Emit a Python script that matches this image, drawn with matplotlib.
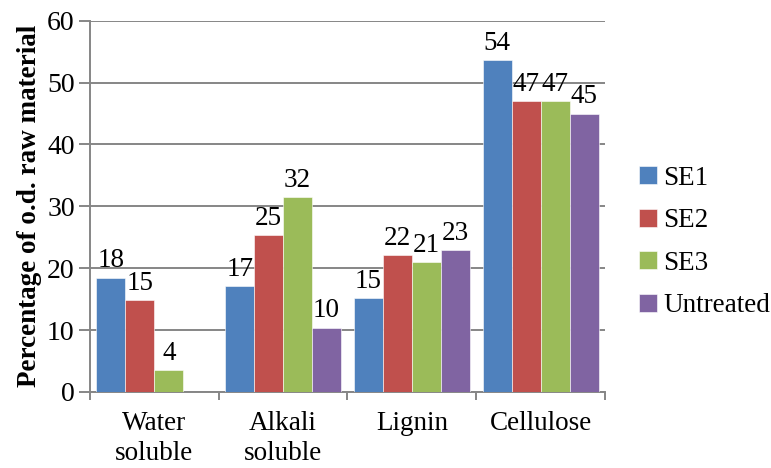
import numpy as np
import matplotlib
matplotlib.use('Agg')
import matplotlib.pyplot as plt

categories = ['Water\nsoluble', 'Alkali\nsoluble', 'Lignin', 'Cellulose']
series = ['SE1', 'SE2', 'SE3', 'Untreated']
se1 = [18.5, 17.1, 15.2, 53.6]
se2 = [14.9, 25.4, 22.1, 47.0]
se3 = [3.6, 31.5, 21.0, 47.0]
untreated = [np.nan, 10.4, 22.9, 45.0]
colors = ['#4F81BD', '#C0504D', '#9BBB59', '#8064A2']

plt.rcParams['font.family'] = ['Liberation Serif', 'DejaVu Serif']

fig = plt.figure(figsize=(7.71, 4.68), dpi=100)
ax = fig.add_axes([0.1167, 0.1624, 0.668, 0.7934])

x = np.arange(len(categories))
w = 0.225
for i, (name, vals) in enumerate(zip(series, [se1, se2, se3, untreated])):
    pos = x + (i - 1.5) * w
    ax.bar(pos, vals, width=w, color=colors[i], label=name, zorder=3,
           edgecolor='white', linewidth=0.4)
    for p, v in zip(pos, vals):
        if np.isnan(v):
            continue
        ax.annotate(f'{v:.0f}', (p, v), xytext=(0, 3), textcoords='offset points',
                    ha='center', va='bottom', fontsize=19.5)

ax.set_xlim(-0.5, len(categories) - 0.5)
ax.set_ylim(0, 60)
ax.set_yticks(range(0, 61, 10))
ax.yaxis.grid(True, color='#868686', linewidth=1.4, zorder=0)
ax.set_axisbelow(True)

ax.set_xticks(x)
ax.set_xticklabels(categories, fontsize=19.5, linespacing=1.25)
ax.set_xticks(np.arange(-0.5, len(categories), 1), minor=True)
ax.tick_params(axis='x', which='major', length=0, pad=14)
ax.tick_params(axis='x', which='minor', length=6, width=1.4, color='#868686', direction='out')
ax.tick_params(axis='y', length=8, width=1.4, color='#868686', labelsize=20, pad=3)

for s in ['top', 'right']:
    ax.spines[s].set_visible(False)
for s in ['left', 'bottom']:
    ax.spines[s].set_color('#868686')
    ax.spines[s].set_linewidth(1.4)

ax.set_ylabel('Percentage of o.d. raw material', fontsize=19.5, fontweight='bold', labelpad=4)

ax.legend(loc='center left', bbox_to_anchor=(0.815, 0.483), bbox_transform=fig.transFigure,
          frameon=False, fontsize=19.5, handlelength=0.65, handleheight=0.65,
          handletextpad=0.25, labelspacing=0.65, borderaxespad=0)

fig.savefig('out.png', dpi=100)
